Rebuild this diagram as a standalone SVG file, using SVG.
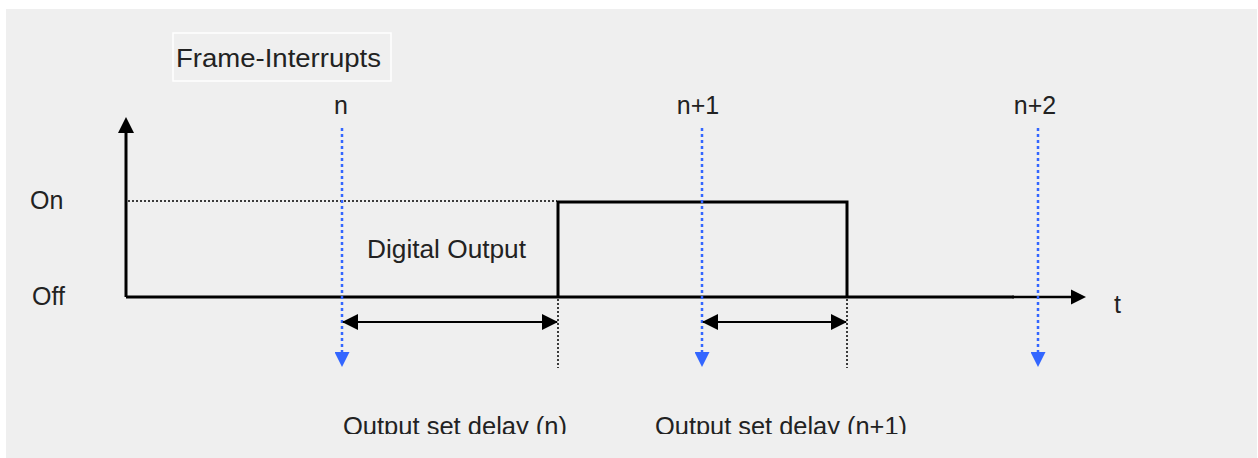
<svg xmlns="http://www.w3.org/2000/svg" width="1258" height="458" viewBox="0 0 1258 458">
  <style>
    .lbl { font-family: "Liberation Sans", Arial, sans-serif; font-size: 25px; fill: #222; }
    .sig { fill: none; stroke: #000; stroke-width: 3; }
    .dotk { fill: none; stroke: #000; stroke-width: 1.5; stroke-dasharray: 2 2; }
    .dotb { fill: none; stroke: #3366FF; stroke-width: 2.5; stroke-dasharray: 3 3; }
    .dim { fill: none; stroke: #000; stroke-width: 2; }
  </style>
  <defs>
    <marker id="ahK" markerUnits="userSpaceOnUse" markerWidth="16" markerHeight="16" viewBox="0 0 16 16" refX="15" refY="8" orient="auto-start-reverse">
      <path d="M0,0 L16,8 L0,16 Z" fill="#000"/>
    </marker>
    <marker id="ahB" markerUnits="userSpaceOnUse" markerWidth="15" markerHeight="15" viewBox="0 0 15 15" refX="1" refY="7.5" orient="auto">
      <path d="M0,0 L15,7.5 L0,15 Z" fill="#3366FF"/>
    </marker>
    <clipPath id="clipBottom">
      <rect x="0" y="0" width="1258" height="434"/>
    </clipPath>
  </defs>
  <rect x="6" y="9" width="1251" height="449" fill="#EFEFEF"/>

  <g id="title">
    <rect x="173" y="33" width="218" height="48" fill="none" stroke="#FFFFFF" stroke-width="1.5"/>
    <text class="lbl" x="176" y="67" textLength="205" lengthAdjust="spacingAndGlyphs">Frame-Interrupts</text>
  </g>

  <g id="labels">
    <text class="lbl" x="341" y="114" text-anchor="middle">n</text>
    <text class="lbl" x="698" y="114" text-anchor="middle">n+1</text>
    <text class="lbl" x="1035" y="114" text-anchor="middle">n+2</text>
    <text class="lbl" x="30" y="209">On</text>
    <text class="lbl" x="32" y="305">Off</text>
    <text class="lbl" x="1114" y="313">t</text>
    <text class="lbl" x="367" y="258" textLength="159" lengthAdjust="spacingAndGlyphs">Digital Output</text>
  </g>

  <g id="bottom-labels" clip-path="url(#clipBottom)">
    <text class="lbl" x="343" y="435" textLength="224" lengthAdjust="spacingAndGlyphs">Output set delay (n)</text>
    <text class="lbl" x="655" y="435" textLength="252" lengthAdjust="spacingAndGlyphs">Output set delay (n+1)</text>
  </g>

  <g id="connectors">
    <!-- axes -->
    <line class="sig" x1="126" y1="297" x2="126" y2="132"/>
    <path d="M118,133 L126,117 L134,133 Z" fill="#000"/>
    <line class="sig" x1="126" y1="297" x2="1014" y2="297"/>
    <line x1="1012" y1="297" x2="1072" y2="297" stroke="#000" stroke-width="2.5"/>
    <path d="M1071,289.5 L1086,297 L1071,304.5 Z" fill="#000"/>
    <!-- pulse -->
    <path class="sig" d="M558,297 V202 H847 V297"/>
    <!-- on level dotted -->
    <line class="dotk" x1="128" y1="201" x2="557" y2="201"/>
    <!-- vertical dotted black -->
    <line class="dotk" x1="558" y1="299" x2="558" y2="368"/>
    <line class="dotk" x1="847" y1="299" x2="847" y2="368"/>
    <!-- frame interrupts -->
    <line class="dotb" x1="342" y1="128" x2="342" y2="353" marker-end="url(#ahB)"/>
    <line class="dotb" x1="702" y1="128" x2="702" y2="353" marker-end="url(#ahB)"/>
    <line class="dotb" x1="1038" y1="128" x2="1038" y2="353" marker-end="url(#ahB)"/>
    <!-- delay dimension arrows -->
    <line class="dim" x1="343" y1="322" x2="557" y2="322" marker-start="url(#ahK)" marker-end="url(#ahK)"/>
    <line class="dim" x1="703" y1="322" x2="846" y2="322" marker-start="url(#ahK)" marker-end="url(#ahK)"/>
  </g>
</svg>
